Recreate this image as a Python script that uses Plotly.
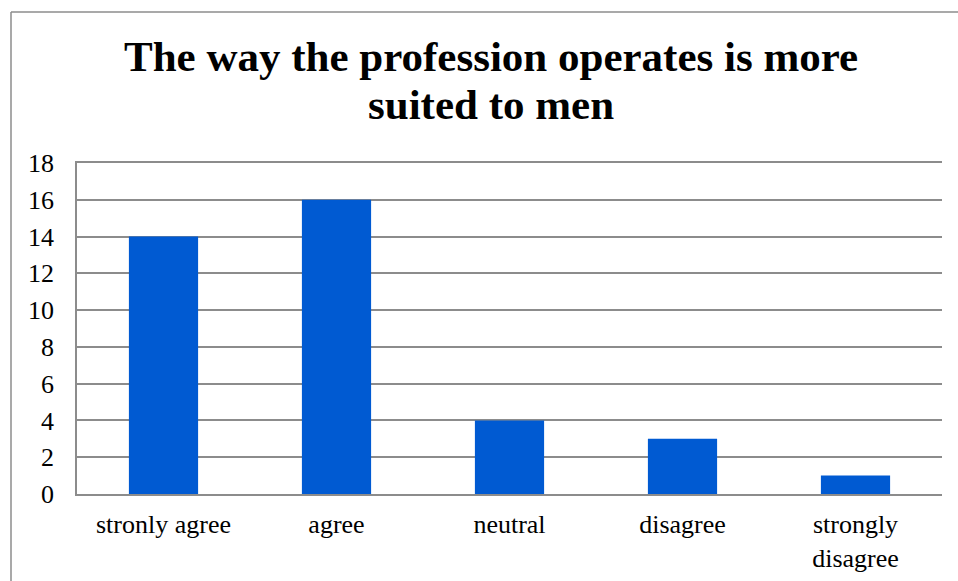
import plotly.graph_objects as go

categories = ["stronly agree", "agree", "neutral", "disagree", "strongly<br>disagree"]
counts = [14, 16, 4, 3, 1]
y_ticks = [0, 2, 4, 6, 8, 10, 12, 14, 16, 18]
title_lines = ["The way the profession operates is more", "suited to men"]

W, H = 958, 581
L, R, T, B = 77, 16, 163, 87
pw, ph = W - L - R, H - T - B
SERIF = "Liberation Serif"
GRID = "#8c8c8c"


def py(pixel_y):
    """Pixel row (from the top of the page) to paper y."""
    return (T + ph - pixel_y) / ph


def px(pixel_x):
    """Pixel column (from the left of the page) to paper x."""
    return (pixel_x - L) / pw


fig = go.Figure(
    go.Bar(
        x=categories,
        y=counts,
        marker=dict(color="#005ad2", line=dict(width=0)),
        width=0.4,
    )
)

fig.update_layout(
    width=W,
    height=H,
    margin=dict(l=L, r=R, t=T, b=B, pad=0, autoexpand=False),
    paper_bgcolor="white",
    plot_bgcolor="white",
    font=dict(family=SERIF, color="black", size=26),
    showlegend=False,
    bargap=0.6,
)

# Two-line bold title, set a little tighter than the default line height
for line, bottom in zip(title_lines, [82, 130]):
    fig.add_annotation(
        text="<b>%s</b>" % line,
        xref="paper", yref="paper",
        x=px(491), xanchor="center",
        y=py(bottom), yanchor="bottom",
        showarrow=False,
        font=dict(size=43, family=SERIF, color="black"),
    )

fig.update_yaxes(
    range=[0, 18],
    tickvals=y_ticks,
    showgrid=True,
    gridcolor=GRID,
    gridwidth=1.5,
    zeroline=False,
    showline=True,
    linecolor=GRID,
    linewidth=1.5,
    ticks="",
    ticklabelstandoff=16,
    tickfont=dict(size=26, family=SERIF, color="black"),
    automargin=False,
)
fig.update_xaxes(
    showgrid=False,
    showline=True,
    mirror=True,
    linecolor=GRID,
    linewidth=1.5,
    ticks="",
    ticklabelstandoff=6,
    tickfont=dict(size=26, family=SERIF, color="black"),
    automargin=False,
)

# Outer chart frame (left and top edges; the rest runs off the page)
fig.add_shape(
    type="line", xref="paper", yref="paper",
    x0=px(11), x1=px(11), y0=py(H + 5), y1=py(12),
    line=dict(color=GRID, width=1.5), layer="above",
)
fig.add_shape(
    type="line", xref="paper", yref="paper",
    x0=px(11), x1=px(W + 5), y0=py(12), y1=py(12),
    line=dict(color=GRID, width=1.5), layer="above",
)

fig.write_html("out.html")
